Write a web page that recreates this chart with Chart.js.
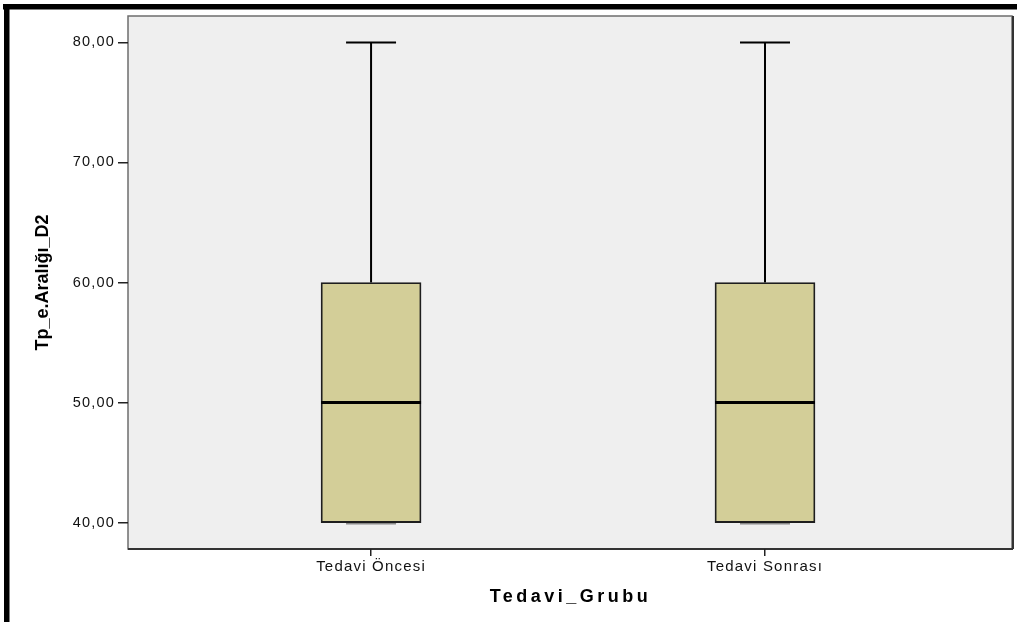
<!DOCTYPE html>
<html>
<head>
<meta charset="utf-8">
<title>Tp_e.Aralığı_D2 / Tedavi_Grubu</title>
<script src="https://cdn.jsdelivr.net/npm/chart.js@4/dist/chart.umd.min.js"></script>
<style>
  html, body { margin: 0; padding: 0; background: #ffffff; }
  #wrap { position: relative; width: 1017px; height: 622px; }
</style>
</head>
<body>
<div id="wrap"><canvas id="chart"></canvas></div>
<script>
// Five-number summaries per treatment group
const categories = ['Tedavi Öncesi', 'Tedavi Sonrası'];
const minimums = [40, 40];
const lowerQuartiles = [40, 40];
const medians = [50, 50];
const upperQuartiles = [60, 60];
const maximums = [80, 80];

// Axis ticks and titles
const yTickValues = [40, 50, 60, 70, 80];
const yAxisTitle = 'Tp_e.Aralığı_D2';
const xAxisTitle = 'Tedavi_Grubu';

const BOX_WIDTH = 100;
const BOX_FILL = '#d3ce98';
const FRAME_FILL = '#efefef';

// Boxes span Q1..Q3 as floating bars; groups sit at x = 1, 2
const boxData = categories.map((c, i) => ({ x: i + 1, y: [lowerQuartiles[i], upperQuartiles[i]] }));

const formatComma = v => Number(v).toFixed(2).replace('.', ',');

// Page frame, plot background and border
const framePlugin = {
  id: 'frame',
  beforeDraw(chart) {
    const { ctx, chartArea: a } = chart;
    ctx.save();
    ctx.fillStyle = '#000000';
    ctx.fillRect(3, 4, chart.width - 3, 5.5);
    ctx.fillRect(4, 4, 5.5, chart.height - 4);
    ctx.fillStyle = FRAME_FILL;
    ctx.fillRect(a.left, a.top, a.right - a.left, a.bottom - a.top);
    ctx.strokeStyle = '#6e6e6e';
    ctx.lineWidth = 1.5;
    ctx.strokeRect(a.left, a.top, a.right - a.left, a.bottom - a.top);
    ctx.strokeStyle = '#333333';
    ctx.lineWidth = 2;
    ctx.beginPath();
    ctx.moveTo(a.left, a.bottom);
    ctx.lineTo(a.right + 1, a.bottom);
    ctx.moveTo(a.right + 1, a.top);
    ctx.lineTo(a.right + 1, a.bottom);
    ctx.stroke();
    ctx.restore();
    // wider glyph spacing for the axis tick labels
    ctx.letterSpacing = '1.2px';
  },
  afterDraw(chart) {
    chart.ctx.letterSpacing = '0px';
  }
};

// Whiskers with caps (under the boxes) and median lines (over the boxes)
const whiskerPlugin = {
  id: 'whiskers',
  beforeDatasetsDraw(chart) {
    const { ctx, scales: { x, y } } = chart;
    ctx.save();
    ctx.lineWidth = 2;
    categories.forEach((c, i) => {
      const cx = x.getPixelForValue(i + 1);
      const half = BOX_WIDTH / 4;
      const yMin = y.getPixelForValue(minimums[i]);
      const yQ1 = y.getPixelForValue(lowerQuartiles[i]);
      const yQ3 = y.getPixelForValue(upperQuartiles[i]);
      const yMax = y.getPixelForValue(maximums[i]);
      ctx.strokeStyle = '#000000';
      ctx.beginPath();
      ctx.moveTo(cx, yQ3); ctx.lineTo(cx, yMax);
      ctx.moveTo(cx - half, yMax); ctx.lineTo(cx + half, yMax);
      ctx.moveTo(cx, yQ1); ctx.lineTo(cx, yMin);
      ctx.stroke();
      ctx.strokeStyle = '#8a8a8a';
      ctx.beginPath();
      ctx.moveTo(cx - half, yMin + 1); ctx.lineTo(cx + half, yMin + 1);
      ctx.stroke();
    });
    ctx.restore();
  },
  afterDatasetsDraw(chart) {
    const { ctx, scales: { x, y } } = chart;
    ctx.save();
    ctx.strokeStyle = '#000000';
    ctx.lineWidth = 3;
    categories.forEach((c, i) => {
      const cx = x.getPixelForValue(i + 1);
      const ym = y.getPixelForValue(medians[i]);
      ctx.beginPath();
      ctx.moveTo(cx - BOX_WIDTH / 2, ym);
      ctx.lineTo(cx + BOX_WIDTH / 2, ym);
      ctx.stroke();
    });
    ctx.restore();
  }
};

// Axis titles
const titlePlugin = {
  id: 'axisTitles',
  afterDraw(chart) {
    const { ctx, chartArea: a } = chart;
    ctx.save();
    ctx.fillStyle = '#000000';
    ctx.font = 'bold 18px "Liberation Sans", Arial, sans-serif';
    ctx.textAlign = 'center';
    ctx.textBaseline = 'alphabetic';
    ctx.letterSpacing = '0px';
    ctx.translate(48, 282.5);
    ctx.rotate(-Math.PI / 2);
    ctx.fillText(yAxisTitle, 0, 0);
    ctx.restore();

    ctx.save();
    ctx.fillStyle = '#000000';
    ctx.font = 'bold 18px "Liberation Sans", Arial, sans-serif';
    ctx.textAlign = 'center';
    ctx.textBaseline = 'alphabetic';
    ctx.letterSpacing = '3.5px';
    ctx.fillText(xAxisTitle, (a.left + a.right) / 2 + 0.5, 601.5);
    ctx.restore();
  }
};

new Chart(document.getElementById('chart'), {
  type: 'bar',
  data: {
    datasets: [{
      data: boxData,
      backgroundColor: BOX_FILL,
      borderColor: '#1e1e1e',
      borderWidth: 1.8,
      borderSkipped: false,
      barThickness: BOX_WIDTH
    }]
  },
  plugins: [framePlugin, whiskerPlugin, titlePlugin],
  options: {
    responsive: true,
    maintainAspectRatio: false,
    animation: false,
    layout: { padding: { left: 0, top: 16, right: 5, bottom: 0 } },
    plugins: {
      legend: { display: false },
      tooltip: { enabled: false }
    },
    scales: {
      x: {
        type: 'linear',
        offset: false,
        min: 0.383,
        max: 2.627,
        afterBuildTicks: s => { s.ticks = categories.map((c, i) => ({ value: i + 1 })); },
        afterFit: s => { s.height = 73; },
        ticks: {
          callback: v => categories[v - 1],
          color: '#111111',
          font: { family: '"Liberation Sans", Arial, sans-serif', size: 15 },
          padding: 2,
          maxRotation: 0,
          autoSkip: false
        },
        grid: { offset: false, drawOnChartArea: false, drawTicks: true, tickLength: 7, tickColor: '#222222', lineWidth: 1.5 },
        border: { display: false }
      },
      y: {
        min: 37.8,
        max: 82.2,
        afterBuildTicks: s => { s.ticks = yTickValues.map(v => ({ value: v })); },
        afterFit: s => { s.width = 128; },
        ticks: {
          callback: v => formatComma(v),
          color: '#111111',
          font: { family: '"Liberation Sans", Arial, sans-serif', size: 14.5 },
          padding: 3
        },
        grid: { drawOnChartArea: false, drawTicks: true, tickLength: 10, tickColor: '#222222', lineWidth: 1.5 },
        border: { display: false }
      }
    }
  }
});
</script>
</body>
</html>
